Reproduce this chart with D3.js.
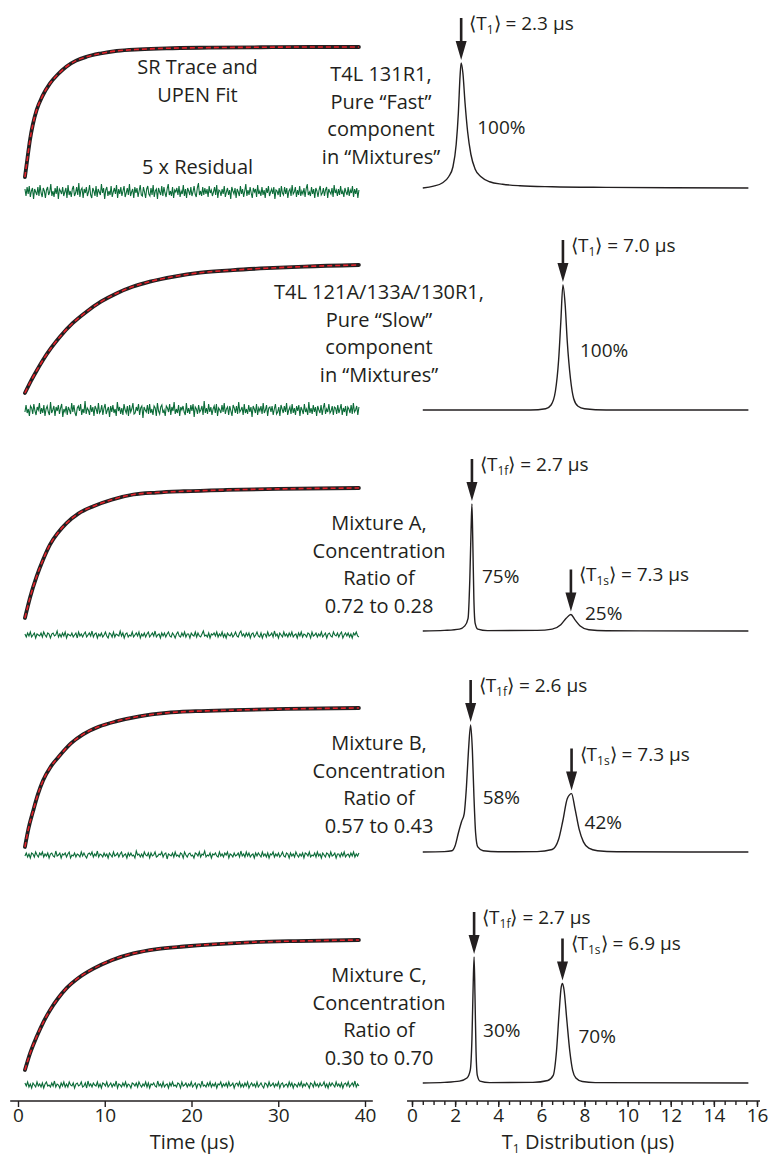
<!DOCTYPE html>
<html><head><meta charset="utf-8">
<script src="https://cdn.jsdelivr.net/npm/d3@7"></script>
<style>
body{margin:0;background:#fff;}
svg text{font-family:"Open Sans",sans-serif;fill:#231f20;}
</style></head><body>
<svg id="c" width="771" height="1158"></svg>
<script>
// ---------------- DATA ----------------
const timeTicks = [0,10,20,30,40];
const t1Ticks = [0,2,4,6,8,10,12,14,16];
const t1MinorTicks = d3.range(0,16.01,0.5);

// SR traces (time µs, normalized signal)
const trace1 = [[0.8,0],[1.1,0.15],[1.38,0.285],[1.7,0.4],[2.15,0.515],[2.8,0.62],[3.69,0.72],[4.6,0.79],[5.6,0.85],[6.7,0.895],[7.9,0.925],[9.5,0.95],[11.4,0.97],[14,0.982],[17.1,0.99],[22,0.995],[28,0.998],[34,1.0],[39.3,1.0]];
const trace2 = [[0.8,0],[1.5,0.095],[2.2,0.18],[2.9,0.26],[3.8,0.35],[4.84,0.44],[6.3,0.545],[7.9,0.635],[9.6,0.715],[11.4,0.78],[13.2,0.83],[15.2,0.87],[18,0.91],[21,0.94],[24.8,0.96],[28.7,0.975],[33,0.988],[39.3,1.0]];
const trace3 = [[0.8,0],[1.4,0.16],[2.15,0.32],[2.9,0.45],[3.69,0.565],[4.6,0.655],[5.6,0.73],[7,0.805],[8.7,0.86],[10.8,0.91],[13.3,0.95],[16,0.965],[19.1,0.975],[24,0.985],[30,0.993],[39.3,1.0]];
const trace4 = [[0.8,0],[1.2,0.13],[1.77,0.265],[2.3,0.38],[2.9,0.48],[3.8,0.58],[4.84,0.66],[6.1,0.745],[7.5,0.81],[9.3,0.865],[11.4,0.905],[14,0.94],[17.1,0.965],[20.5,0.977],[24.8,0.985],[31,0.993],[39.3,1.0]];
const trace5 = [[0.8,0],[1.4,0.13],[2.15,0.256],[2.9,0.365],[3.69,0.46],[4.6,0.55],[5.6,0.63],[7,0.71],[8.7,0.78],[10.8,0.845],[13.3,0.897],[16,0.93],[19.1,0.95],[22.5,0.967],[26.7,0.982],[32,0.992],[39.3,1.0]];

// 5 x residuals (sampled evenly from first to last trace time)
const res1 = [3,-4,5,-2,6,-5,1,4,-7,3,0,-3,5,-4,7,-1,-5,4,1,-6,2,5,-3,0,8,-4,1,-5,4,-2,6,-7,3,1,-2,5,-4,0,4,-6,
7,-3,1,-5,3,6,-4,-1,5,-3,9,-5,2,4,-6,3,-1,5,-4,0,7,-3,-6,4,1,-4,6,-5,3,0,-3,8,-1,4,-7,2,5,-4,1,-3,
6,-5,0,4,-2,7,-6,3,-2,5,-4,1,6,-5,-1,4,-3,8,-4,0,3,-6,5,-1,4,-5,1,7,-3,-4,5,0,-6,3,6,-2,-4,4,-3,7,
-5,1,3,-7,4,0,-3,6,-4,5,-1,-5,3,8,-3,1,-4,5,-6,2,0,4,-3,6,-5,1,-2,7,-4,3,-6,4,1,-3,5,-4,0,6,-2,-5,
4,9,-3,1,-4,5,-3,4,-2,3,-5,6,-1,2,-4,0,5,-3,7,-6,2,1,-4,3,-2,6,-5,0,4,-3,2,-7,5,1,-2,4,-6,3,0,-4,
6,-2,3,-5,1,8,-4,2,-3,5,-1,-6,4,0,3,-5,7,-2,1,-4,5,-3,2,-6,4,-1,6,-4,0,3,-2,5,-7,2,1,-3,4,-5,6,-1,
-3,5,-2,4,-6,1,3,-4,7,-2,0,5,-5,2,-3,6,-4,1,-2,4,-5,3,8,-3,0,-4,5,-2,3,-6,4,1,-5,2,6,-3,-1,4,-4,2,
5,-6,3,0,-2,4,-5,7,-1,2,-4,3,-3,6,-2,1,-5,4,0,-3,5,-4,2,-1,6,-5,3,-2,4,-6,2];
const res2 = [-2,5,-3,1,-6,4,2,-4,6,-1,-5,3,0,7,-4,2,-3,5,-6,1,4,-2,-5,8,-3,0,4,-6,3,-1,5,-4,2,6,-7,1,-2,4,-5,3,
0,-4,7,-2,5,-3,-6,2,4,-1,6,-5,1,-3,9,-4,2,0,-5,5,-2,3,-6,4,1,-4,7,-3,-1,5,-5,2,6,-4,0,3,-7,4,-2,5,
-3,1,-6,8,-1,3,-4,2,-5,6,0,-3,4,-6,5,-2,1,7,-4,-3,3,-1,6,-5,2,4,-8,3,0,-2,5,-4,6,-3,1,-5,4,2,-6,7,
-1,-4,3,5,-3,0,-6,4,2,-2,6,-5,3,-1,8,-4,1,-3,5,-6,3,0,4,-2,-5,7,-3,2,-4,5,-1,6,-7,3,1,-4,5,-2,0,4,
-5,9,-3,2,-4,6,-2,3,-5,1,4,-3,6,-6,2,0,-3,5,-2,7,-4,1,3,-5,4,-1,-6,5,2,-3,4,-4,8,-2,0,3,-5,6,-3,1,
-4,5,-2,3,-7,4,1,-3,6,-5,2,-1,4,-4,7,-3,0,5,-6,2,3,-2,4,-5,1,6,-4,-2,3,-6,5,1,-3,4,-2,7,-5,0,3,-4,
6,-3,2,-5,4,-1,5,-6,3,0,-4,6,-2,1,-5,8,-3,2,-4,5,-2,3,-6,4,0,-3,5,-5,2,7,-4,1,-2,6,-3,-1,4,-5,3,2,
-4,5,-3,1,6,-5,2,-2,4,-6,3,1,-3,5,-4,7,-2,0,4,-5,3];
const res3 = [1,-2,2,-1,3,-2,0,2,-3,1,0,-1,2,-2,3,0,-2,2,1,-3,1,2,-1,0,4,-2,1,-2,2,-1,3,-3,1,0,-1,2,-2,0,2,-3,
3,-1,1,-2,1,3,-2,0,2,-1,4,-2,1,2,-3,1,-1,2,-2,0,3,-1,-3,2,1,-2,3,-2,1,0,-1,4,-1,2,-3,1,2,-2,0,-1,
3,-2,0,2,-1,3,-3,1,-1,2,-2,1,3,-2,0,2,-1,4,-2,0,1,-3,2,-1,2,-2,1,3,-1,-2,2,0,-3,1,3,-1,-2,2,-1,3,
-2,1,1,-3,2,0,-1,3,-2,2,-1,-2,1,4,-1,0,-2,2,-3,1,0,2,-1,3,-2,1,-1,3,-2,1,-3,2,0,-1,2,-2,0,3,-1,-2,
2,4,-1,1,-2,2,-1,2,-3,1,2,-2,0,3,-1,-2,2,-3,1,1,-2,3,-1,0,2,-2,4,-1,1,-3,2,0,-2,3,-1,1,-2,2,-1,3,
-2,0,1,-3,2,-1,3,-2,1,0,-2,2,1,-3,3,-1,0,2,-2,1,-1,3,-2,0,2,-3,1,2,-1,-2,3,0,-1,2,-2,1,3,-3,0,2,
-1,2,-2,1,-3,2,0,3,-1,-2];
const res4 = [-1,2,-2,1,-3,2,1,-2,3,0,-2,2,0,3,-2,1,-1,2,-3,1,2,-1,-2,4,-1,0,2,-3,1,0,2,-2,1,3,-3,0,-1,2,-2,1,
0,-2,3,-1,2,-1,-3,1,2,0,3,-2,1,-1,4,-2,1,0,-2,2,-1,1,-3,2,0,-2,3,-1,0,2,-2,1,3,-2,0,1,-3,2,-1,2,
-1,0,-3,4,0,1,-2,1,-2,3,0,-1,2,-3,2,-1,0,3,-2,-1,1,0,3,-2,1,2,-4,1,0,-1,2,-2,3,-1,0,-2,2,1,-3,3,
0,-2,1,2,-1,0,-3,2,1,-1,3,-2,1,0,4,-2,0,-1,2,-3,1,0,2,-1,-2,3,-1,1,-2,2,0,3,-3,1,0,-2,2,-1,0,2,
-2,4,-1,1,-2,3,-1,2,-2,0,1,-3,2,-1,2,0,-2,3,-1,1,-2,2,-3,1,0,3,-2,1,-1,2,-2,0,3,-1,-2,2,1,-3,2,-1,
1,-2,3,0,-2,1,-1,2,-3,2,1,-1,3,-2,0,-1,2,-2,3,-1,1,-3,2,0,-2,2,1,-2,3,-1,0,2,-3,1,1,-2,2,-1,3,-2,
0,1,-2,2,-1,3,-2,1,-1,2];
const res5 = [2,-1,3,-2,1,-3,2,0,-2,3,-1,1,-2,2,-3,1,3,-1,0,-2,2,-1,4,-2,1,0,-3,2,-1,3,-2,1,-2,3,0,-1,2,-3,1,2,
-1,0,3,-2,-1,2,-3,4,-1,1,-2,2,0,-1,3,-2,1,-3,2,1,-1,3,-2,0,2,-2,1,-1,4,-3,1,0,-2,2,-1,3,-2,1,0,-3,
2,1,-1,2,-2,3,0,-2,1,-1,3,-2,2,-3,1,0,2,-1,-2,4,-1,1,-2,3,-2,0,1,-3,2,-1,3,-1,0,-2,2,1,-3,3,-1,0,
2,-2,1,-1,3,-2,0,2,-3,1,1,-2,4,-1,0,-2,2,-1,3,-2,1,-1,2,-3,1,0,3,-2,1,-1,2,-2,3,-1,0,2,-3,1,2,-1,
3,-2,1,-2,2,-1,3,-3,0,2,-1,1,-2,3,-2,0,2,-1,-3,2,1,-2,3,-1,0,2,-2,1,-1,3,-3,1,2,-2,0,1,-2,3,-1,2,
-3,1,0,-2,2,-1,3,-2,1,-1,2,0,-3,2,1,-2,3,-1,1,-2,2,-1,0,3,-2,1,-3,2,-1,2,0,-2,3,-1,1,-2,2,-3,1,2,
-1,3,-2,0,2,-1,4,-2,1,-1];

// T1 distributions (T1 µs, normalized probability)
const dist1 = [[0.5,0],[1.0,0.015],[1.4,0.04],[1.7,0.09],[1.9,0.17],[2.05,0.35],[2.15,0.6],[2.23,0.9],[2.28,1.0],[2.36,0.92],[2.46,0.68],[2.58,0.45],[2.73,0.27],[2.93,0.15],[3.2,0.09],[3.6,0.05],[4.2,0.03],[5,0.018],[6.5,0.01],[9,0.005],[12,0.002],[15.6,0.0]];
const dist2 = [[0.5,0],[5.5,0],[6.2,0.01],[6.45,0.04],[6.65,0.15],[6.8,0.4],[6.9,0.7],[7.0,1.0],[7.1,0.85],[7.2,0.55],[7.35,0.25],[7.5,0.09],[7.7,0.03],[8.0,0.01],[9,0],[15.6,0]];
const dist3 = [[0.5,0],[1.5,0.005],[2.2,0.015],[2.45,0.04],[2.6,0.1],[2.68,0.4],[2.74,0.8],[2.78,1.0],[2.82,0.7],[2.87,0.25],[2.93,0.06],[3.05,0.015],[3.5,0.003],[5.8,0.005],[6.5,0.015],[6.9,0.05],[7.15,0.1],[7.37,0.13],[7.55,0.09],[7.8,0.04],[8.2,0.01],[9,0.002],[15.6,0]];
const dist4 = [[0.5,0],[1.5,0.003],[1.85,0.01],[2.0,0.05],[2.15,0.15],[2.3,0.24],[2.42,0.3],[2.52,0.5],[2.62,0.8],[2.72,1.0],[2.8,0.8],[2.87,0.45],[2.95,0.15],[3.05,0.04],[3.3,0.01],[4,0.002],[5.8,0.003],[6.5,0.02],[6.8,0.1],[7.0,0.25],[7.2,0.42],[7.4,0.46],[7.55,0.35],[7.75,0.18],[7.95,0.08],[8.2,0.03],[8.6,0.01],[9.5,0.002],[15.6,0]];
const dist5 = [[0.5,0],[1.5,0.005],[2.2,0.015],[2.55,0.04],[2.7,0.1],[2.78,0.35],[2.84,0.8],[2.88,1.0],[2.92,0.7],[2.97,0.25],[3.03,0.06],[3.15,0.015],[3.6,0.003],[5.6,0.005],[6.3,0.02],[6.55,0.06],[6.7,0.25],[6.82,0.55],[6.92,0.76],[6.98,0.79],[7.05,0.74],[7.18,0.5],[7.32,0.25],[7.45,0.1],[7.6,0.04],[7.9,0.012],[8.5,0.003],[15.6,0]];

// peaks / annotations
const peakT = [[2.28],[7.0],[2.78,7.37],[2.72,7.4],[2.88,6.98]];
const peakP = [[1],[1],[1,0.13],[1,0.46],[1,0.79]];
const meanSub = [["1"],["1"],["1f","1s"],["1f","1s"],["1f","1s"]];
const meanVal = [["2.3"],["7.0"],["2.7","7.3"],["2.6","7.3"],["2.7","6.9"]];
const percents = [["100%"],["100%"],["75%","25%"],["58%","42%"],["30%","70%"]];
const notes = [
  ["T4L 131R1,","Pure \u201CFast\u201D","component","in \u201CMixtures\u201D"],
  ["T4L 121A/133A/130R1,","Pure \u201CSlow\u201D","component","in \u201CMixtures\u201D"],
  ["Mixture A,","Concentration","Ratio of","0.72 to 0.28"],
  ["Mixture B,","Concentration","Ratio of","0.57 to 0.43"],
  ["Mixture C,","Concentration","Ratio of","0.30 to 0.70"]];

const traces = [trace1,trace2,trace3,trace4,trace5];
const residuals = [res1,res2,res3,res4,res5];
const dists = [dist1,dist2,dist3,dist4,dist5];

// ---------------- LAYOUT ----------------
const leftLayout = [
  {top:47,bottom:177,res:192},
  {top:265,bottom:393,res:410},
  {top:488,bottom:618,res:635},
  {top:708,bottom:847,res:855},
  {top:940,bottom:1070,res:1085}];
const rightLayout = [{base:188,h:125},{base:410,h:125},{base:631,h:127},{base:852,h:127},{base:1083,h:126}];
const noteLayout = [{x:381,y:74},{x:379,y:292},{x:379,y:523},{x:379,y:743},{x:379,y:975}];
const pctLayout = [[[16,0.49]],[[17,0.48]],[[10,0.43],[14,0.14]],[[12,0.43],[13,0.24]],[[9,0.42],[16,0.37]]];
const axisY = 1101;
const FS = 20;

const svg = d3.select("#c");
const xL = d3.scaleLinear().domain([0,40]).range([18,365]);
const xR = d3.scaleLinear().domain([0,16]).range([412,757]);
const ink = "#231f20";

// ---------------- LEFT PANELS ----------------
traces.forEach((tr,i)=>{
  const L = leftLayout[i];
  const y = d3.scaleLinear().domain([0,1]).range([L.bottom,L.top]);
  const line = d3.line().x(d=>xL(d[0])).y(d=>y(d[1])).curve(d3.curveMonotoneX);
  svg.append("path").attr("d",line(tr)).attr("fill","none").attr("stroke",ink).attr("stroke-width",3.8).attr("stroke-linecap","round");
  svg.append("path").attr("d",line(tr)).attr("fill","none").attr("stroke","#e4222a").attr("stroke-width",1.6).attr("stroke-dasharray","5,3");
  const r = residuals[i];
  const tr0 = tr[0][0], tr1 = tr[tr.length-1][0];
  const tIdx = d3.scaleLinear().domain([0,r.length-1]).range([tr0,tr1]);
  const yr = d3.scaleLinear().domain([-10,10]).range([L.res+10,L.res-10]);
  const rline = d3.line().x((d,j)=>xL(tIdx(j))).y(d=>yr(d));
  svg.append("path").attr("d",rline(r)).attr("fill","none").attr("stroke","#0b6b38").attr("stroke-width",1.1);
});

// left texts panel 1
[["SR Trace and",67],["UPEN Fit",95],["5 x Residual",167]].forEach(([t,yc])=>{
  svg.append("text").attr("x",197.5).attr("y",yc+7).attr("text-anchor","middle").attr("font-size",FS).text(t);
});

// notes
notes.forEach((lines,i)=>{
  const N = noteLayout[i];
  lines.forEach((t,j)=>{
    svg.append("text").attr("x",N.x).attr("y",N.y+j*27.7+7).attr("text-anchor","middle").attr("font-size",FS).text(t);
  });
});

// ---------------- RIGHT PANELS ----------------
function meanLabel(x,yc,sub,val){
  const t = svg.append("text").attr("x",x).attr("y",yc+7).attr("font-size",19);
  t.append("tspan").text("\u27E8T");
  t.append("tspan").attr("font-size",12).attr("dy",4).text(sub);
  t.append("tspan").attr("dy",-4).text("\u27E9 = "+val+" \u03BCs");
}
function arrow(x,tipY,len){
  const hw=5.5, hl=19, sw=1.3;
  const top = tipY-len;
  svg.append("path").attr("fill",ink)
    .attr("d",`M${x-sw},${top}L${x+sw},${top}L${x+sw},${tipY-hl}L${x+hw},${tipY-hl}L${x},${tipY}L${x-hw},${tipY-hl}L${x-sw},${tipY-hl}Z`);
}
dists.forEach((ds,i)=>{
  const R = rightLayout[i];
  const y = d3.scaleLinear().domain([0,1]).range([R.base,R.base-R.h]);
  const line = d3.line().x(d=>xR(d[0])).y(d=>y(d[1])).curve(d3.curveMonotoneX);
  svg.append("path").attr("d",line(ds)).attr("fill","none").attr("stroke",ink).attr("stroke-width",1.4);
  peakT[i].forEach((pt,k)=>{
    const px = xR(pt), tip = y(peakP[i][k])-3, len=42;
    arrow(px,tip,len);
    meanLabel(px+8, tip-len+5, meanSub[i][k], meanVal[i][k]);
    const pl = pctLayout[i][k];
    svg.append("text").attr("x",px+pl[0]).attr("y",y(pl[1])+7).attr("font-size",19).text(percents[i][k]);
  });
});

// ---------------- AXES ----------------
const gL = svg.append("g").attr("transform",`translate(0,${axisY})`)
  .call(d3.axisBottom(xL).tickValues(timeTicks).tickSize(6).tickSizeOuter(0).tickFormat(d3.format("d")).tickPadding(2));
gL.select(".domain").attr("d",`M${xL(-0.9)},0H${xL(40.9)}`);
const gR0 = svg.append("g").attr("transform",`translate(0,${axisY})`)
  .call(d3.axisBottom(xR).tickValues(t1MinorTicks).tickSize(4).tickSizeOuter(0).tickFormat(""));
gR0.select(".domain").attr("d",`M${xR(-0.23)},0H${xR(16.14)}`);
const gR = svg.append("g").attr("transform",`translate(0,${axisY})`)
  .call(d3.axisBottom(xR).tickValues(t1Ticks).tickSize(6).tickSizeOuter(0).tickFormat(d3.format("d")).tickPadding(2));
gR.select(".domain").remove();
svg.selectAll(".tick text").attr("font-size",19).attr("font-family","Open Sans").attr("fill",ink);
svg.selectAll(".domain, .tick line").attr("stroke",ink).attr("stroke-width",1.4);

svg.append("text").attr("x",192).attr("y",1149).attr("text-anchor","middle").attr("font-size",FS).text("Time (\u03BCs)");
const tt = svg.append("text").attr("x",588).attr("y",1149).attr("text-anchor","middle").attr("font-size",FS);
tt.append("tspan").text("T");
tt.append("tspan").attr("font-size",12).attr("dy",4).text("1");
tt.append("tspan").attr("dy",-4).text(" Distribution (\u03BCs)");
</script>
</body></html>
